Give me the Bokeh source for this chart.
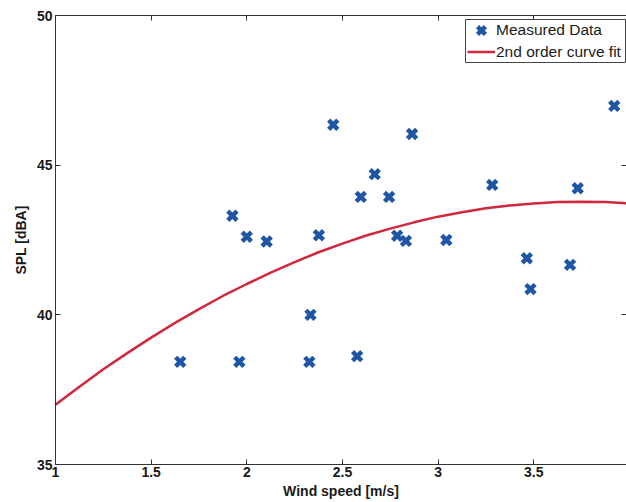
from bokeh.plotting import figure
from bokeh.models import (Range1d, LinearAxis, FixedTicker, Legend, LegendItem,
                          ColumnDataSource, CustomJSTickFormatter, BoxAnnotation)
from bokeh.embed import file_html
from bokeh.resources import INLINE

# ---- data ----
wind_speed = [1.925, 2.000, 2.104, 2.452, 2.377, 2.333, 2.327, 1.652, 1.961, 2.577,
              2.596, 2.669, 2.744, 2.864, 2.786, 2.832, 3.043, 3.283, 3.464, 3.483,
              3.690, 3.730, 3.921]
spl_measured = [43.31, 42.61, 42.45, 46.35, 42.66, 40.00, 38.43, 38.43, 38.43, 38.62,
                43.94, 44.70, 43.94, 46.04, 42.64, 42.47, 42.50, 44.34, 41.89, 40.86,
                41.67, 44.23, 46.98]

fit_x = [1.0, 1.125, 1.25, 1.375, 1.5, 1.625, 1.75, 1.875, 2.0, 2.125, 2.25, 2.375,
         2.5, 2.625, 2.75, 2.875, 3.0, 3.125, 3.25, 3.375, 3.5, 3.625, 3.75, 3.875, 4.0]
fit_y = [37.00, 37.60, 38.18, 38.72, 39.24, 39.73, 40.19, 40.63, 41.03, 41.41, 41.76, 42.09,
         42.38, 42.65, 42.88, 43.09, 43.28, 43.43, 43.56, 43.65, 43.72, 43.77, 43.78, 43.77, 43.72]

x_ticks = [1, 1.5, 2, 2.5, 3, 3.5, 4]
x_tick_labels = ["1", "1.5", "2", "2.5", "3", "3.5", "4"]
y_ticks = [35, 40, 45, 50]
y_tick_labels = ["35", "40", "45", "50"]

x_label = "Wind speed [m/s]"
y_label = "SPL [dBA]"
series_names = ["Measured Data", "2nd order curve fit"]

FONT = "Liberation Sans"
AX = "#333333"
TXT = "#1a1a1a"
BLUE = "#1f55a5"
RED = "#d0283c"

p = figure(width=626, height=502, x_range=Range1d(1, 3.985), y_range=Range1d(35, 50),
           output_backend="svg", toolbar_location=None,
           min_border_left=55, min_border_top=15, min_border_right=0, min_border_bottom=38)
p.xgrid.visible = False
p.ygrid.visible = False
p.outline_line_color = None
p.background_fill_color = "white"
p.border_fill_color = "white"

def style(ax, ticks, labels, show_labels=True):
    ax.ticker = FixedTicker(ticks=ticks)
    ax.minor_tick_line_color = None
    ax.major_tick_in = 5
    ax.major_tick_out = 0
    ax.axis_line_color = AX
    ax.major_tick_line_color = AX
    ax.major_label_text_font = FONT
    ax.major_label_text_font_style = "bold"
    ax.major_label_text_color = TXT
    ax.major_label_text_font_size = "14px"
    if show_labels:
        ax.major_label_overrides = dict(zip(ticks, labels))
    else:
        ax.formatter = CustomJSTickFormatter(code="return ''")
        ax.major_label_standoff = 0

xa = p.xaxis[0]
style(xa, x_ticks, x_tick_labels)
xa.major_label_standoff = 2
xa.axis_label = x_label
xa.axis_label_text_font = FONT
xa.axis_label_text_font_style = "bold"
xa.axis_label_text_font_size = "14px"
xa.axis_label_text_color = TXT
xa.axis_label_standoff = 3

ya = p.yaxis[0]
style(ya, y_ticks, y_tick_labels)
ya.major_label_standoff = 3
ya.axis_label = y_label
ya.axis_label_text_font = FONT
ya.axis_label_text_font_style = "bold"
ya.axis_label_text_font_size = "14px"
ya.axis_label_text_color = TXT
ya.axis_label_standoff = 5

top = LinearAxis()
style(top, x_ticks, x_tick_labels, show_labels=False)
p.add_layout(top, "above")

right = LinearAxis()
style(right, y_ticks, y_tick_labels, show_labels=False)
right.axis_line_color = None
p.add_layout(right, "right")

fit_src = ColumnDataSource(dict(x=fit_x, y=fit_y))
meas_src = ColumnDataSource(dict(x=wind_speed, y=spl_measured))

r_fit = p.line("x", "y", source=fit_src, line_color=RED, line_width=2.5)
r_meas = p.scatter("x", "y", source=meas_src, marker="x", size=13, line_color=BLUE, line_width=4.5)

# legend frame (screen units, relative to the plot frame)
legend_box = BoxAnnotation(left=410, right=570, top=445, bottom=402,
                           left_units="screen", right_units="screen",
                           top_units="screen", bottom_units="screen",
                           fill_color="white", fill_alpha=1,
                           line_color="#444444", line_width=1, line_alpha=1)
p.add_layout(legend_box)

common = dict(margin=0, padding=0, spacing=0, label_height=19, glyph_width=28,
              label_standoff=1, label_text_font=FONT, label_text_font_size="15.5px",
              label_text_color=TXT, border_line_color=None, background_fill_alpha=0)

legend_meas = Legend(items=[LegendItem(label=series_names[0], renderers=[r_meas])],
                     location=(412, 420), glyph_height=28, **common)
legend_fit = Legend(items=[LegendItem(label=series_names[1], renderers=[r_fit])],
                    location=(412, 403), glyph_height=19, **common)
p.add_layout(legend_meas, "center")
p.add_layout(legend_fit, "center")

open("out.html", "w").write(file_html(p, INLINE))
